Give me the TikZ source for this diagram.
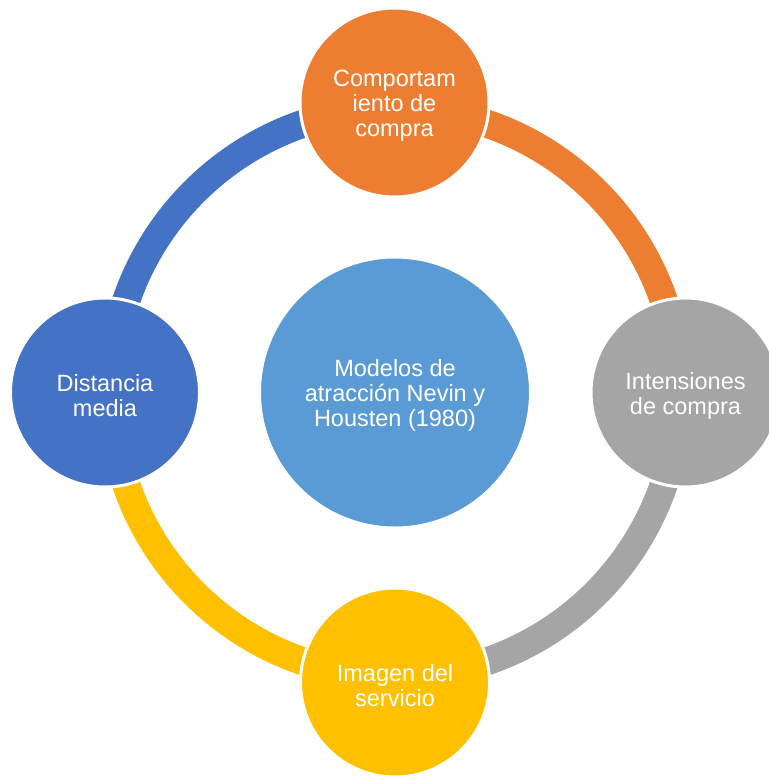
\documentclass[tikz,border=0pt]{standalone}
\usepackage{fontspec}
\setmainfont{Liberation Sans}
\definecolor{cOrange}{HTML}{ED7D31}
\definecolor{cGray}{HTML}{A5A5A5}
\definecolor{cYellow}{HTML}{FFC000}
\definecolor{cBlue}{HTML}{4472C4}
\definecolor{cCenter}{HTML}{5B9BD5}
\tikzset{
  bub/.style={circle, draw=white, line width=3bp, inner sep=0pt, minimum size=189bp},
  bubtext/.style={text=white, align=center, inner sep=0pt, yshift=-3bp,
    font=\fontsize{23.5bp}{25bp}\selectfont},
  ringarc/.style={line width=28bp}
}
\begin{document}
\begin{tikzpicture}[x=1bp,y=-1bp]
\useasboundingbox (0,0) rectangle (769,776);
\clip (0,0) rectangle (769,776);
\coordinate (c) at (395,392.5);
% ring arcs
\draw[ringarc, cOrange] (c) ++(270:284) arc[start angle=270, end angle=360, radius=284];
\draw[ringarc, cGray] (c) ++(0:284) arc[start angle=0, end angle=90, radius=284];
\draw[ringarc, cYellow] (c) ++(90:284) arc[start angle=90, end angle=180, radius=284];
\draw[ringarc, cBlue] (c) ++(180:284) arc[start angle=180, end angle=270, radius=284];
% nodes
\node[bub, fill=cCenter, minimum size=271bp] (mid) at (c) {};
\node[bubtext] (midtxt) at (mid.center) {Modelos de\\atracción Nevin y\\Housten (1980)};
\node[bub, fill=cOrange] (top) at (394.5,102.5) {};
\node[bubtext] (toptxt) at (top.center) {Comportam\\iento de\\compra};
\node[bub, fill=cGray] (right) at (685.5,392.5) {};
\node[bubtext] (righttxt) at (right.center) {Intensiones\\de compra};
\node[bub, fill=cYellow] (bottom) at (395,682.5) {};
\node[bubtext] (bottomtxt) at (bottom.center) {Imagen del\\servicio};
\node[bub, fill=cBlue] (left) at (105,392.5) {};
\node[bubtext] (lefttxt) at (left.center) {Distancia\\media};
\end{tikzpicture}
\end{document}
